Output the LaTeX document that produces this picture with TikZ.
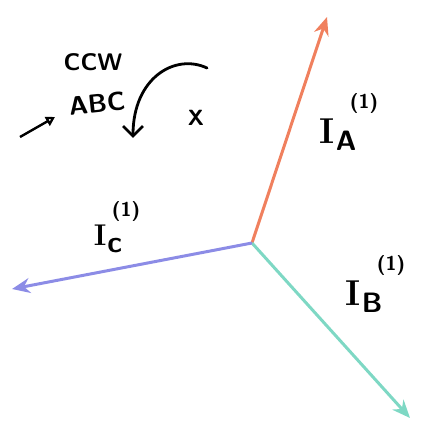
\documentclass[tikz,border=0pt]{standalone}
\usepackage{fontspec}
\usetikzlibrary{arrows.meta}

\definecolor{phA}{HTML}{F0805E}
\definecolor{phB}{HTML}{7ED8C4}
\definecolor{phC}{HTML}{8C8CE6}

\newcommand{\phlabel}[2]{I\hspace{1pt}\raisebox{-7pt}{\sffamily\bfseries\fontsize{#2}{#2}\selectfont #1}}

\tikzset{
  phasor/.style={line width=3pt, -{Stealth[length=18pt,width=15pt]}},
  hand/.style={inner sep=0pt, font=\sffamily\bfseries},
  lbl/.style={inner sep=0pt, font=\bfseries\fontsize{36}{38}\selectfont},
  sup/.style={inner sep=0pt, font=\sffamily\bfseries\fontsize{20}{22}\selectfont},
}

\begin{document}
\begin{tikzpicture}[x=1pt,y=1pt]
\useasboundingbox (0,0) rectangle (421,438);

% phasors
\coordinate (o) at (252,195);
\coordinate (a) at (327,421);
\coordinate (b) at (410,20);
\coordinate (c) at (12,149);

\draw[phasor, phA] (o) -- (a);
\draw[phasor, phB] (o) -- (b);
\draw[phasor, phC] (o) -- (c);

% labels
\node[lbl] (ia) at (338,303) {\phlabel{A}{28}};
\node[sup] (ia1) at (364,334) {(1)};

\node[lbl] (ib) at (364,141) {\phlabel{B}{28}};
\node[sup] (ib1) at (391,172) {(1)};

\node[lbl, font=\bfseries\fontsize{30}{32}\selectfont] (ic) at (108,199) {\phlabel{c}{30}};
\node[sup] (ic1) at (126,226) {(1)};

% rotation note
\node[hand, font=\sffamily\bfseries\fontsize{24}{26}\selectfont] (ccw) at (93,376) {CCW};
\node[hand, font=\sffamily\bfseries\fontsize{26}{28}\selectfont, rotate=6] (abc) at (97,334) {ABC};
\node[hand, font=\sffamily\bfseries\fontsize{22}{24}\selectfont] (x) at (196,320) {X};

\coordinate (s1) at (20,301);
\coordinate (s2) at (55,321);
\draw[line width=2.4pt, -{Triangle[open,length=9pt,width=10pt]}] (s1) -- (s2);

\coordinate (r1) at (207,370);
\coordinate (r2) at (133,300);
\draw[line width=2.8pt, line cap=round, -{Straight Barb[length=10pt,width=20pt]}]
  (r1) .. controls (175,385) and (133,360) .. (r2);
\end{tikzpicture}
\end{document}
